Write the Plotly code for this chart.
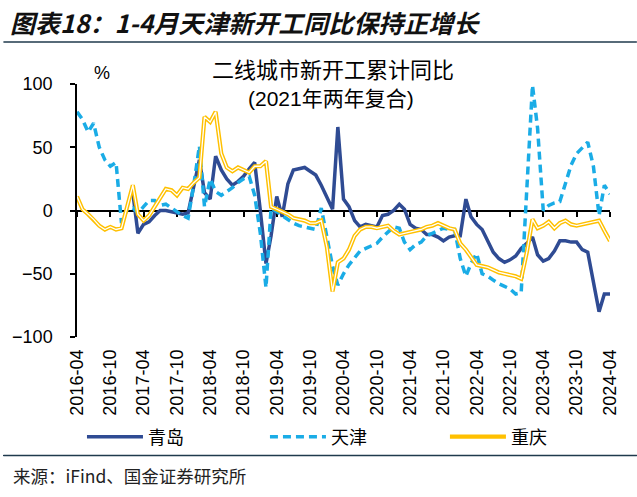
import pandas as pd
import plotly.graph_objects as go

# ---------------- data ----------------
months = pd.date_range("2016-04-01", periods=97, freq="MS")

tick_labels = ["2016-04", "2016-10", "2017-04", "2017-10", "2018-04", "2018-10",
               "2019-04", "2019-10", "2020-04", "2020-10", "2021-04", "2021-10",
               "2022-04", "2022-10", "2023-04", "2023-10", "2024-04"]
y_ticks = [-100, -50, 0, 50, 100]

qingdao = [None] * 10 + [
    14, -18, -11, -9, -4, 0, 0, -1, -2, -3,
    -2, 20, 40, 14, 9, 43, 32, 25, 20, 23,
    27, 33, 38, 0, -42, -20, 11, -5, 21, 32,
    33, 34, 31, 28, 20, 10, 1, 66, 9, 3,
    -8, -13, -11, -12, -13, -4, -3, 0, 5, 1,
    -11, -14, -15, -19, -19, -21, -24, -21, -20, -20,
    9, -5, -11, -15, -25, -33, -38, -41, -39, -36,
    -30, -26, -21, -35, -40, -38, -32, -24, -24, -25,
    -25, -31, -33, -58, -80, -66, -66,
]

tianjin = [
    78, 72, 62, 69, 50, 40, 35, 38, -10, 1,
    2, -2, 3, 8, 8, 4, 5, 2, -1, -4,
    -6, 20, 51, 3, 25, 15, 12, 15, 18, 22,
    25, 27, 12, -18, -61, 2, -1, -4, -7, -10,
    -12, -13, -14, -15, 2, -20, -44, -59, -50, -43,
    -37, -32, -30, -28, -26, -21, -17, -13, -14, -25,
    -31, -27, -25, -20, -18, -16, -14, -15, -15, -38,
    -52, -42, -34, -50, -52, -55, -58, -60, -62, -66,
    -65, 17, 99, 65, 0, 4, 6, 7, 22, 36,
    45, 50, 54, 35, -4, 20, 13,
]

chongqing = [
    11, 1, -3, -7, -12, -15, -13, -15, -14, 3,
    20, -3, -8, -4, 3, 10, 17, 16, 12, 18,
    17, 22, 26, 74, 70, 78, 45, 34, 31, 34,
    32, 30, 35, 35, 39, 3, 1, -1, -3, -6,
    -7, -8, -10, -10, -8, -29, -64, -41, -38, -31,
    -20, -15, -13, -13, -14, -13, -12, -16, -19, -18,
    -17, -16, -15, -13, -12, -10, -12, -14, -15, -26,
    -31, -37, -43, -44, -45, -47, -49, -50, -51, -52,
    -54, -33, -7, -14, -12, -9, -14, -10, -8, -11,
    -12, -11, -10, -9, -8, -16, -24,
]

# ---------------- styling ----------------
W, H = 637, 497
L, R, T, B = 74, 27, 84, 160
PW, PH = W - L - R, H - T - B

def px_x(x):
    return (x - L) / PW

def px_y(y):
    return (H - B - y) / PH

CJK = "Noto Sans CJK SC"
LAT = "Liberation Sans, Arial, Noto Sans CJK SC"
RULE = "#1F3A4D"
x_range = [months[0], months[-1]]
tick_dates = [pd.Timestamp(t + "-01") for t in tick_labels]

fig = go.Figure()
fig.add_trace(go.Scatter(x=months, y=qingdao, name="青岛", mode="lines", legend="legend",
                         line=dict(color="#2F4B93", width=3.5)))
fig.add_trace(go.Scatter(x=months, y=tianjin, name="天津", mode="lines", legend="legend2",
                         line=dict(color="#1AACE6", width=3.5, dash="8px,5px")))
fig.add_trace(go.Scatter(x=months, y=chongqing, name="重庆", mode="lines", legend="legend3",
                         line=dict(color="#FFC000", width=4.2)))
fig.add_trace(go.Scatter(x=months, y=chongqing, name="重庆", mode="lines",
                         showlegend=False, hoverinfo="skip", xaxis="x2",
                         line=dict(color="#FFFFFF", width=1.3)))

def legend_at(xpx):
    return dict(orientation="h", x=px_x(xpx), xanchor="left",
                y=px_y(437), yanchor="middle", itemwidth=56,
                font=dict(family=CJK, size=18, color="#000000"),
                bgcolor="rgba(0,0,0,0)", borderwidth=0)

fig.update_layout(
    width=W, height=H,
    margin=dict(l=L, r=R, t=T, b=B),
    paper_bgcolor="white", plot_bgcolor="white",
    title=dict(text="图表18：1-4月天津新开工同比保持正增长",
               x=10 / W, xanchor="left", xref="container",
               y=1 - 24 / H, yanchor="middle", yref="container",
               font=dict(family=CJK, size=25, color="#111111",
                         weight="bold", style="italic")),
    xaxis=dict(type="date", range=x_range, showline=False, showgrid=False,
               zeroline=False, ticks="", tickvals=tick_dates, ticktext=tick_labels,
               tickangle=-90, ticklabelstandoff=8,
               tickfont=dict(family=LAT, size=18, color="#000000")),
    xaxis2=dict(type="date", range=x_range, overlaying="x", anchor="free",
                position=0.5, showline=False, showgrid=False, zeroline=False,
                ticks="outside", ticklen=5, tickwidth=1.5, tickcolor="#000000",
                tickvals=tick_dates, showticklabels=False, layer="below traces"),
    yaxis=dict(range=[-100, 100], tickvals=y_ticks, showgrid=False,
               showline=True, linecolor="#000000", linewidth=1.5,
               ticks="outside", ticklen=5, tickwidth=1.5, tickcolor="#000000",
               zeroline=True, zerolinecolor="#000000", zerolinewidth=1.5,
               ticklabelstandoff=14,
               tickfont=dict(family=LAT, size=18, color="#000000")),
    legend=legend_at(79),
    legend2=legend_at(263),
    legend3=legend_at(444),
    showlegend=True,
)

fig.add_annotation(text="%", x=px_x(99), y=px_y(73), xref="paper", yref="paper",
                   xanchor="center", yanchor="middle", showarrow=False,
                   font=dict(family=LAT, size=18, color="#000000"))
fig.add_annotation(text="二线城市新开工累计同比", x=px_x(331), y=px_y(68),
                   xref="paper", yref="paper", xanchor="center", yanchor="middle",
                   showarrow=False, font=dict(family=CJK, size=22, color="#000000"))
fig.add_annotation(text="(2021年两年复合)", x=px_x(329), y=px_y(98),
                   xref="paper", yref="paper", xanchor="center", yanchor="middle",
                   showarrow=False, font=dict(family=LAT, size=21, color="#000000"))
fig.add_annotation(text="来源：iFind、国金证券研究所", x=px_x(8), y=px_y(475),
                   xref="paper", yref="paper", xanchor="left", yanchor="middle",
                   showarrow=False, font=dict(family=CJK, size=17.5, color="#222222"))

# header rule
fig.add_shape(type="rect", xref="paper", yref="paper", layer="above",
              x0=px_x(0), x1=px_x(W), y0=px_y(41.2), y1=px_y(42.8),
              fillcolor=RULE, line=dict(width=0))
# footer rule: a shape, plus a thin filled annotation box in the info layer
fig.add_shape(type="rect", xref="paper", yref="paper", layer="above",
              x0=px_x(0), x1=px_x(W), y0=px_y(454.7), y1=px_y(456.3),
              fillcolor=RULE, line=dict(width=0))
fig.add_annotation(text=" ", x=px_x(0), y=px_y(455.5), xref="paper", yref="paper",
                   xanchor="left", yanchor="middle", showarrow=False,
                   width=W, height=1, borderpad=0, borderwidth=0,
                   bgcolor=RULE, font=dict(size=1, color=RULE))

fig.write_html("out.html", config={"displayModeBar": False},
               post_script="document.body.style.margin='0';")
